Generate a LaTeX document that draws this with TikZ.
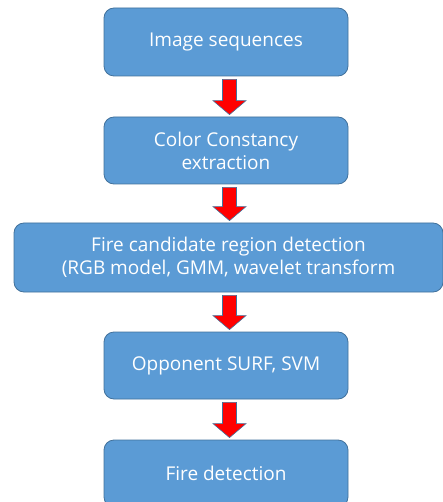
\documentclass[tikz,border=0pt]{standalone}
\usepackage{fontspec}
\setmainfont{Open Sans}
\usetikzlibrary{calc}
\definecolor{boxfill}{HTML}{5B9BD5}
\definecolor{boxline}{HTML}{41719C}
\definecolor{arrowred}{HTML}{FF0000}
\tikzset{
  stage/.style={draw=boxline, line width=0.8pt, fill=boxfill, rounded corners=10pt,
    minimum width=244pt, minimum height=67pt, inner sep=0pt, align=center,
    text=white, font=\fontsize{19}{23}\selectfont},
  blockarrow/.style={fill=arrowred, draw=boxline, line width=0.6pt, line join=miter}
}
% block arrow from the bottom of one stage to the top of the next
\newcommand\flowarrow[2]{%
  \path[blockarrow] let \p1=(#1.south), \p2=(#2.north) in
    (222.5pt,\y1-3pt) -- (236.5pt,\y1-3pt) -- (236.5pt,\y2+16pt) -- (246pt,\y2+16pt)
    -- (229.5pt,\y2+2pt) -- (213pt,\y2+16pt) -- (222.5pt,\y2+16pt) -- cycle;}
\begin{document}
\begin{tikzpicture}[x=1pt,y=-1pt]
  \path[use as bounding box] (0,0) rectangle (443,502);
  \clip (0,0) rectangle (443,502);
  \node[stage, minimum height=68pt] (seq) at (226,42) {Image sequences};
  \node[stage] (cc) at (226,150.5) {Color Constancy\\extraction};
  \node[stage, minimum width=429pt, minimum height=69pt] (cand) at (228.5,257.5)
    {Fire candidate region detection\\(RGB model, GMM, wavelet transform};
  \node[stage] (surf) at (226,365.5) {Opponent SURF, SVM};
  \node[stage] (fire) at (226,473.5) {Fire detection};
  \flowarrow{seq}{cc}
  \flowarrow{cc}{cand}
  \flowarrow{cand}{surf}
  \flowarrow{surf}{fire}
\end{tikzpicture}
\end{document}
